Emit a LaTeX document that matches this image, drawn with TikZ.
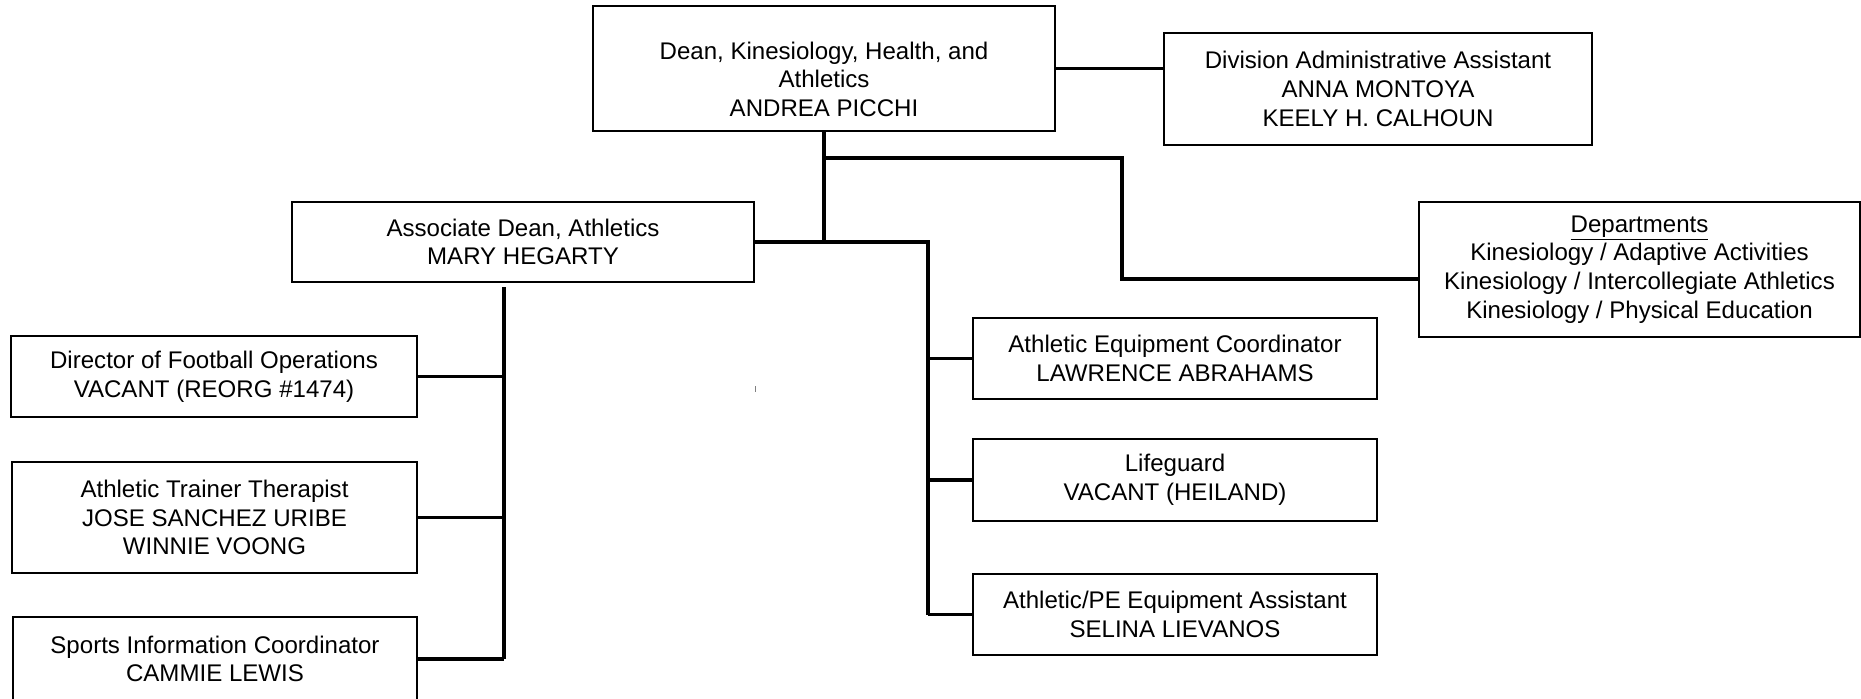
\documentclass[tikz,border=0pt]{standalone}
\usepackage{fontspec}
\setmainfont{Liberation Sans}
\usepackage{tikz}

\begin{document}
\begin{tikzpicture}[x=0.02cm, y=-0.02cm,
        every node/.style={font=\fontsize{13.7}{16.3}\selectfont},
        box/.style={draw, line width=1pt, align=center, inner sep=0pt},
        link/.style={line width=2pt}]
            \useasboundingbox (0,0) rectangle (1861,699);
            % Top level
            \node[box, minimum width=9.24cm, minimum height=2.5cm] (dean) at (824,68.5)
                {\rule{0pt}{22pt}Dean, Kinesiology, Health, and\\Athletics\\ANDREA PICCHI};
            \node[box, minimum width=8.56cm, minimum height=2.24cm] (admin) at (1378,89)
                {Division Administrative Assistant\\ANNA MONTOYA\\KEELY H. CALHOUN};
            \node[box, minimum width=8.82cm, minimum height=2.7cm] (depts) at (1639.5,269.5)
                {\underline{Departments}\\Kinesiology / Adaptive Activities\\Kinesiology / Intercollegiate Athletics\\Kinesiology / Physical Education};
            \node[box, minimum width=9.24cm, minimum height=1.6cm] (assoc) at (523,242)
                {Associate Dean, Athletics\\MARY HEGARTY};
            % Left column
            \node[box, minimum width=8.12cm, minimum height=1.62cm] (football) at (214,376.5)
                {Director of Football Operations\\VACANT (REORG \#1474)};
            \node[box, minimum width=8.1cm, minimum height=2.22cm] (trainer) at (214.5,517.5)
                {Athletic Trainer Therapist\\JOSE SANCHEZ URIBE\\WINNIE VOONG};
            \node[box, minimum width=8.08cm, minimum height=1.68cm] (sports) at (215,659)
                {Sports Information Coordinator\\CAMMIE LEWIS};
            % Right column
            \node[box, minimum width=8.08cm, minimum height=1.62cm] (equip) at (1175,358.5)
                {Athletic Equipment Coordinator\\LAWRENCE ABRAHAMS};
            \node[box, minimum width=8.08cm, minimum height=1.64cm] (guard) at (1175,480)
                {Lifeguard\\VACANT (HEILAND)};
            \node[box, minimum width=8.08cm, minimum height=1.62cm] (peasst) at (1175,614.5)
                {Athletic/PE Equipment Assistant\\SELINA LIEVANOS};
            % Connectors
            \coordinate (fork) at (824,158);
            \coordinate (bend) at (1122,158);
            \coordinate (deptin) at (1419,279);
            \coordinate (rtop) at (928,242);
            \coordinate (rbot) at (928,615);
            \coordinate (ltop) at (504,287);
            \coordinate (lbot) at (504,659);
            \draw[link] (dean.east) -- (dean.east -| admin.west);
            \draw[link] (dean.south) -- (dean.south |- assoc.east);
            \draw[link] (fork) -- (bend) |- (deptin);
            \draw[link] (assoc.east) -- (rtop) -- (rbot);
            \draw[link] (equip.west) -- (equip.west -| rtop);
            \draw[link] (guard.west) -- (guard.west -| rtop);
            \draw[link] (peasst.west) -- (peasst.west -| rtop);
            \draw[link] (ltop) -- (lbot);
            \draw[link] (football.east) -- (football.east -| ltop);
            \draw[link] (trainer.east) -- (trainer.east -| ltop);
            \draw[link] (sports.east) -- (sports.east -| ltop);
            \draw[gray, very thin] (755,386) -- (755,392);
        \end{tikzpicture}
\end{document}
